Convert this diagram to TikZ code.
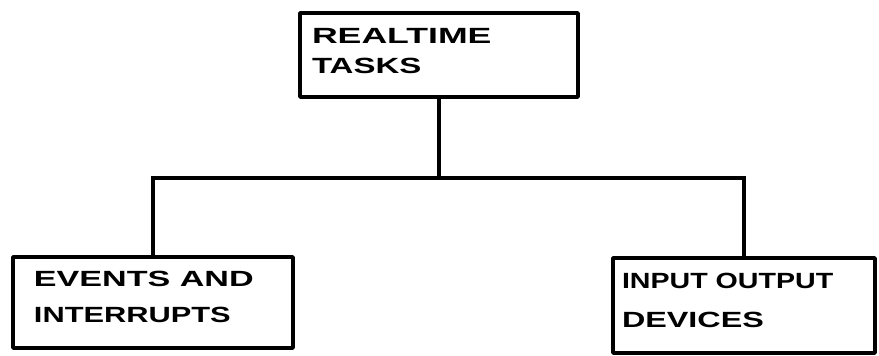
\documentclass[tikz,border=0pt]{standalone}
\usepackage{graphicx}
\usepackage{fontspec}
\setmainfont{Liberation Sans}
\usetikzlibrary{calc}
\newcommand\hw[2]{\scalebox{#1}[1]{#2}}
\begin{document}
\begin{tikzpicture}[x=1pt,y=-1pt,
  box/.style={draw=black, line width=3.5pt, line join=round, outer sep=0pt, inner sep=0pt, fill=white},
  conn/.style={draw=black, line width=3.8pt, line cap=round},
  lbl/.style={anchor=base west, inner sep=0pt, outer sep=0pt, font=\fontsize{22}{26}\selectfont\bfseries}]
\useasboundingbox[fill=white] (0,0) rectangle (879,356);
% boxes
\node[box, minimum width=278pt, minimum height=84pt] (t) at (439,55) {};
\node[box, minimum width=280pt, minimum height=91pt] (l) at (153,302.5) {};
\node[box, minimum width=262pt, minimum height=95pt] (r) at (744,305.5) {};
% junction
\coordinate (j) at (438,178);
% connectors
\draw[conn] (t.south) -- (t.south |- j);
\draw[conn] (l.north) -- (l.north |- j) -- (r.north |- j) -- (r.north);
% labels
\node[lbl] (t1) at ($(t.north west)+(12,30)$) {\hw{1.62}{REALTIME}};
\node[lbl] (t2) at ($(t.north west)+(12,60)$) {\hw{1.50}{TASKS}};
\node[lbl] (l1) at ($(l.north west)+(21,29)$) {\hw{1.55}{EVENTS AND}};
\node[lbl] (l2) at ($(l.north west)+(21,65)$) {\hw{1.40}{INTERRUPTS}};
\node[lbl] (r1) at ($(r.north west)+(9,30)$) {\hw{1.30}{INPUT OUTPUT}};
\node[lbl] (r2) at ($(r.north west)+(9,69)$) {\hw{1.47}{DEVICES}};
\end{tikzpicture}
\end{document}
